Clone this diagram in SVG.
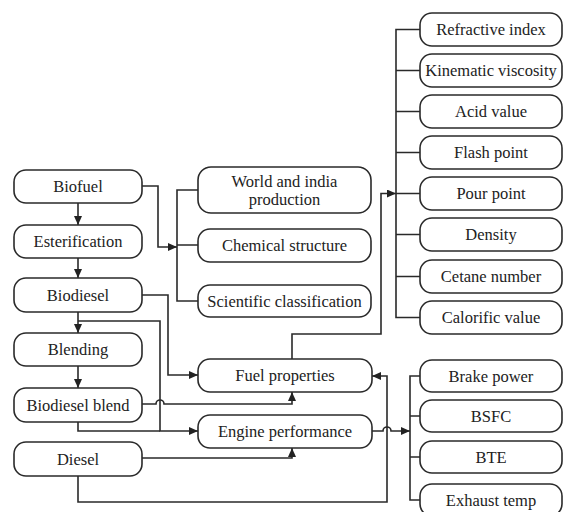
<svg xmlns="http://www.w3.org/2000/svg" width="566" height="512" viewBox="0 0 566 512">
<style>
.b{fill:#fff;stroke:#2a2a2a;stroke-width:1.6}
.t{font-size:16.5px;fill:#222;text-anchor:middle;dominant-baseline:central}
.c{fill:none;stroke:#2a2a2a;stroke-width:1.6}
</style>
<defs>
<marker id="a" markerWidth="9" markerHeight="8" refX="9" refY="4" orient="auto" markerUnits="userSpaceOnUse">
<path d="M0,0 L9,4 L0,8 z" fill="#222"/>
</marker>
</defs>
<rect width="566" height="512" fill="#fff"/>
<g id="connectors">
<path class="c" d="M78 203 V225" marker-end="url(#a)"/>
<path class="c" d="M78 258 V278" marker-end="url(#a)"/>
<path class="c" d="M78 312 V333" marker-end="url(#a)"/>
<path class="c" d="M78 366 V388" marker-end="url(#a)"/>
<path class="c" d="M142 186 H158 V247 H177" marker-end="url(#a)"/>
<path class="c" d="M198 190 H177 V301 H198 M177 245 H198"/>
<path class="c" d="M142 295 H168 V375 H198" marker-end="url(#a)"/>
<path class="c" d="M78 321 H160 V431 H198" marker-end="url(#a)"/>
<path class="c" d="M78 422 V431 H160"/>
<path class="c" d="M142 404 H156 A4 4 0 0 1 164 404 H292 V392" marker-end="url(#a)"/>
<path class="c" d="M142 458 H292 V448" marker-end="url(#a)"/>
<path class="c" d="M78 476 V502 H387 V376 H372" marker-end="url(#a)"/>
<path class="c" d="M372 431 H383 A4 4 0 0 1 391 431 H410" marker-end="url(#a)"/>
<path class="c" d="M420 376 H410 V500 H420 M410 416 H420 M410 457 H420"/>
<path class="c" d="M292 359 V334 H381 V193.5 H396" marker-end="url(#a)"/>
<path class="c" d="M420 29.5 H396 V317.5 H420 M396 70.5 H420 M396 111.5 H420 M396 152.5 H420 M396 193.5 H420 M396 234.5 H420 M396 276.5 H420"/>
</g>
<g font-family="Liberation Serif, Tinos, DejaVu Serif, serif">
<g id="biofuel"><rect class="b" x="14" y="170" width="128" height="33" rx="12"/><text class="t" x="78" y="186.5">Biofuel</text></g>
<g id="esterification"><rect class="b" x="14" y="225" width="128" height="33" rx="12"/><text class="t" x="78" y="241.5">Esterification</text></g>
<g id="biodiesel"><rect class="b" x="14" y="278" width="128" height="34" rx="12"/><text class="t" x="78" y="295">Biodiesel</text></g>
<g id="blending"><rect class="b" x="14" y="333" width="128" height="33" rx="12"/><text class="t" x="78" y="349.5">Blending</text></g>
<g id="biodiesel-blend"><rect class="b" x="14" y="388" width="128" height="34" rx="12"/><text class="t" x="78" y="405">Biodiesel blend</text></g>
<g id="diesel"><rect class="b" x="14" y="442" width="128" height="34" rx="12"/><text class="t" x="78" y="459">Diesel</text></g>
<g id="world"><rect class="b" x="198" y="167" width="173" height="46" rx="13"/><text class="t" x="284.5" y="181">World and india</text><text class="t" x="284.5" y="199">production</text></g>
<g id="chemical"><rect class="b" x="198" y="229" width="173" height="33" rx="12"/><text class="t" x="284.5" y="245.5">Chemical structure</text></g>
<g id="scientific"><rect class="b" x="198" y="285" width="173" height="32" rx="12"/><text class="t" x="284.5" y="301">Scientific classification</text></g>
<g id="fuel-properties"><rect class="b" x="198" y="359" width="174" height="33" rx="12"/><text class="t" x="285" y="375.5">Fuel properties</text></g>
<g id="engine-performance"><rect class="b" x="198" y="415" width="174" height="33" rx="12"/><text class="t" x="285" y="431.5">Engine performance</text></g>
<g id="refractive"><rect class="b" x="420" y="13" width="142" height="33" rx="12"/><text class="t" x="491" y="29.5">Refractive index</text></g>
<g id="kinematic"><rect class="b" x="420" y="54" width="142" height="33" rx="12"/><text class="t" x="491" y="70.5">Kinematic viscosity</text></g>
<g id="acid"><rect class="b" x="420" y="95" width="142" height="33" rx="12"/><text class="t" x="491" y="111.5">Acid value</text></g>
<g id="flash"><rect class="b" x="420" y="136" width="142" height="33" rx="12"/><text class="t" x="491" y="152.5">Flash point</text></g>
<g id="pour"><rect class="b" x="420" y="177" width="142" height="33" rx="12"/><text class="t" x="491" y="193.5">Pour point</text></g>
<g id="density"><rect class="b" x="420" y="218" width="142" height="33" rx="12"/><text class="t" x="491" y="234.5">Density</text></g>
<g id="cetane"><rect class="b" x="420" y="260" width="142" height="33" rx="12"/><text class="t" x="491" y="276.5">Cetane number</text></g>
<g id="calorific"><rect class="b" x="420" y="301" width="142" height="33" rx="12"/><text class="t" x="491" y="317.5">Calorific value</text></g>
<g id="brake"><rect class="b" x="420" y="360" width="142" height="32" rx="12"/><text class="t" x="491" y="376">Brake power</text></g>
<g id="bsfc"><rect class="b" x="420" y="400" width="142" height="32" rx="12"/><text class="t" x="491" y="416">BSFC</text></g>
<g id="bte"><rect class="b" x="420" y="441" width="142" height="32" rx="12"/><text class="t" x="491" y="457">BTE</text></g>
<g id="exhaust"><rect class="b" x="420" y="484" width="142" height="32" rx="12"/><text class="t" x="491" y="500">Exhaust temp</text></g>
</g>
</svg>
